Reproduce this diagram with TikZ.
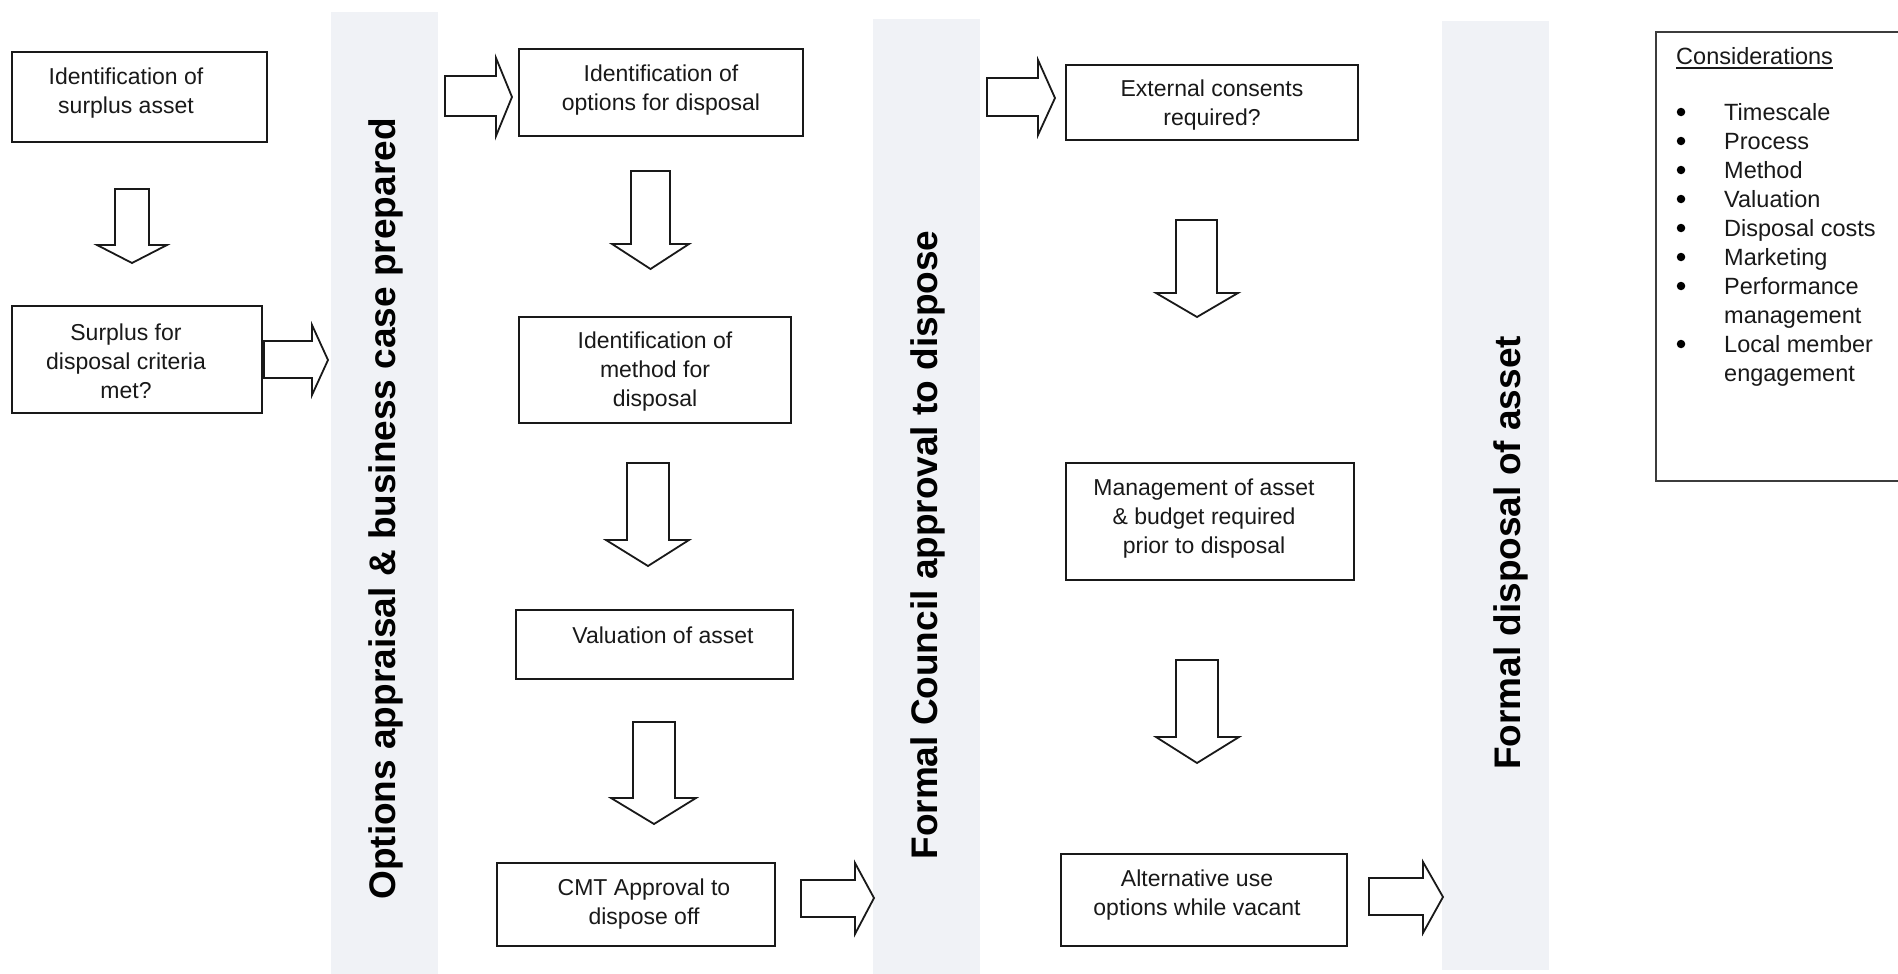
\documentclass[tikz,border=0pt]{standalone}
\usepackage{fontspec}
\setmainfont{Liberation Sans}
\definecolor{bandgray}{RGB}{240,242,246}
\definecolor{inkc}{RGB}{25,25,25}
\newcommand{\rarr}[8]{% xs xh xt ys1 ys2 yh1 yh2 yc
  \draw[barrow] (#1,#4) -- (#2,#4) -- (#2,#6) -- (#3,#8) -- (#2,#7) -- (#2,#5) -- (#1,#5) -- cycle;}
\newcommand{\darr}[8]{% xs1 xs2 yt yh xh1 xh2 ytip xc
  \draw[barrow] (#1,#3) -- (#2,#3) -- (#2,#4) -- (#6,#4) -- (#8,#7) -- (#5,#4) -- (#1,#4) -- cycle;}
\begin{document}
\begin{tikzpicture}[x=1pt,y=-1pt,
  box/.style={draw=inkc, line width=2pt, fill=white, inner sep=0pt},
  band/.style={fill=bandgray, draw=none, inner sep=0pt},
  txt/.style={font=\fontsize{23}{29}\selectfont, align=center, inner sep=0pt, text=inkc},
  ctxt/.style={font=\fontsize{23.5}{29}\selectfont, inner sep=0pt, text=inkc},
  bulletdot/.style={circle, fill=black, draw=none, inner sep=0pt, minimum size=8.5pt},
  bandtxt/.style={font=\fontsize{37}{44}\selectfont\bfseries, inner sep=0pt, text=black},
  barrow/.style={draw=inkc, line width=1.8pt, fill=white, line join=miter}]
\useasboundingbox (0,0) rectangle (1898,974);
\fill[white] (0,0) rectangle (1898,974);

% bands
\node[band, minimum width=107pt, minimum height=962pt] (b1) at (384.5,493) {};
\node[band, minimum width=107pt, minimum height=955pt] (b2) at (926.5,496.5) {};
\node[band, minimum width=107pt, minimum height=949pt] (b3) at (1495.5,495.5) {};
\node[bandtxt, rotate=90, anchor=base] (b1t) at (395,509) {Options appraisal \& business case prepared};
\node[bandtxt, rotate=90, anchor=base] (b2t) at (937,545) {Formal Council approval to dispose};
\node[bandtxt, rotate=90, anchor=base] (b3t) at (1520,553) {Formal disposal of asset};

% boxes
\node[box, minimum width=255pt, minimum height=90pt] (r1) at (139.5,97) {};
\node[box, minimum width=250pt, minimum height=107pt] (r2) at (137,359.5) {};
\node[box, minimum width=284pt, minimum height=87pt] (r3) at (661,92.5) {};
\node[box, minimum width=272pt, minimum height=106pt] (r4) at (655,370) {};
\node[box, minimum width=277pt, minimum height=69pt] (r5) at (654.5,644.5) {};
\node[box, minimum width=278pt, minimum height=83pt] (r6) at (636,904.5) {};
\node[box, minimum width=292pt, minimum height=75pt] (r7) at (1212,102.5) {};
\node[box, minimum width=288pt, minimum height=117pt] (r8) at (1210,521.5) {};
\node[box, minimum width=286pt, minimum height=92pt] (r9) at (1204,900) {};

% box texts
\node[txt] (t1) at (126,93) {Identification of\\surplus asset};
\node[txt] (t2) at (126,361) {Surplus for\\disposal criteria\\met?};
\node[txt] (t3) at (661,90) {Identification of\\options for disposal};
\node[txt] (t4) at (655,372) {Identification of\\method for\\disposal};
\node[txt] (t5) at (663,635) {Valuation of asset};
\node[txt] (t6) at (644,904) {CMT Approval to\\dispose off};
\node[txt] (t7) at (1212,105) {External consents\\required?};
\node[txt] (t8) at (1204,519) {Management of asset\\\& budget required\\prior to disposal};
\node[txt] (t9) at (1197,895) {Alternative use\\options while vacant};

% block arrows (right)
\rarr{264}{312}{328}{341}{378}{325}{395}{360}
\rarr{445}{496}{512}{76}{116}{58}{136}{97}
\rarr{801}{855}{874}{880}{917}{863}{934}{898}
\rarr{987}{1038}{1055}{78}{116}{60}{135}{98}
\rarr{1369}{1423}{1443}{878}{915}{862}{933}{897}

% block arrows (down)
\darr{115}{149}{189}{245}{97}{167}{263}{132}
\darr{631}{670}{171}{244}{612}{689}{269}{650.5}
\darr{627}{669}{463}{540}{606}{689}{566}{648}
\darr{633}{675}{722}{798}{611}{696}{824}{654}
\darr{1176}{1217}{220}{293}{1156}{1238}{317}{1197}
\darr{1176}{1218}{660}{737}{1156}{1239}{763}{1197}

% considerations
\draw[draw=inkc!85, line width=2pt] (1898,32) -- (1656,32) -- (1656,481) -- (1898,481);
\node[ctxt, anchor=base west] (cons) at (1676,64) {Considerations};
\draw[inkc, line width=1.5pt] ([yshift=-4pt]cons.base west) -- ([yshift=-4pt]cons.base east);
\foreach \i/\t/\b in {0/Timescale/1, 1/Process/1, 2/Method/1, 3/Valuation/1, 4/Disposal costs/1, 5/Marketing/1, 6/Performance/1, 7/management/0, 8/Local member/1, 9/engagement/0}{
  \node[ctxt, anchor=base west] (c\i) at (1724,120+29*\i) {\t};
  \ifnum\b=1
    \node[bulletdot] (d\i) at (1681,112+29*\i) {};
  \fi
}
\end{tikzpicture}
\end{document}
